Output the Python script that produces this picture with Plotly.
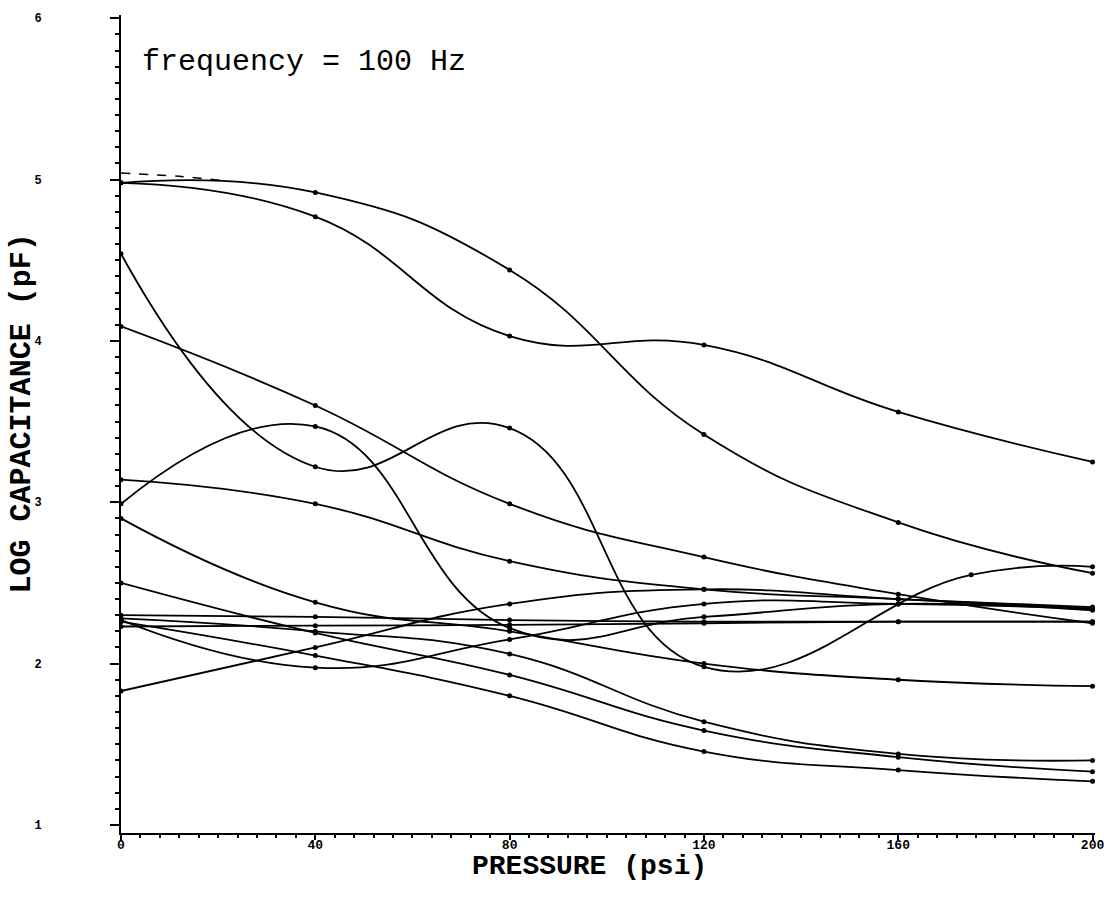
import plotly.graph_objects as go

# Pressure (psi) sample points
pressure = [0, 40, 80, 120, 160, 200]
pressure_b = [0, 40, 80, 120, 175, 200]

# Log capacitance (pF) series
curve_a1 = [4.98, 4.92, 4.44, 3.42, 2.875, 2.56]
curve_a2 = [4.98, 4.77, 4.03, 3.975, 3.56, 3.25]
curve_b = [4.54, 3.22, 3.46, 1.98, 2.55, 2.60]
curve_c = [2.99, 3.47, 2.22, 2.29, 2.37, 2.33]
curve_d = [4.09, 3.60, 2.99, 2.66, 2.43, 2.25]
curve_e = [3.14, 2.99, 2.635, 2.46, 2.40, 2.34]
curve_f = [2.90, 2.38, 2.20, 2.00, 1.90, 1.86]
curve_h = [2.30, 2.29, 2.27, 2.26, 2.26, 2.26]
curve_i = [2.23, 2.235, 2.24, 2.25, 2.26, 2.26]
curve_j = [1.83, 2.10, 2.37, 2.46, 2.40, 2.35]
curve_k = [2.27, 1.975, 2.15, 2.37, 2.37, 2.34]
curve_l1 = [2.28, 2.20, 2.06, 1.64, 1.44, 1.40]
curve_l2 = [2.50, 2.19, 1.93, 1.585, 1.42, 1.33]
curve_l3 = [2.26, 2.05, 1.80, 1.455, 1.34, 1.27]

dashed_x = [0, 12, 22]
dashed_y = [5.04, 5.02, 4.99]

x_ticks = [0, 40, 80, 120, 160, 200]
x_labels = ["0", "40", "80", "120", "160", "200"]
y_ticks = [1, 2, 3, 4, 5, 6]
y_labels = ["1", "2", "3", "4", "5", "6"]

series = [
    (pressure, curve_a1), (pressure, curve_a2), (pressure_b, curve_b),
    (pressure, curve_c), (pressure, curve_d), (pressure, curve_e),
    (pressure, curve_f), (pressure, curve_h), (pressure, curve_i),
    (pressure, curve_j), (pressure, curve_k), (pressure, curve_l1),
    (pressure, curve_l2), (pressure, curve_l3),
]

fig = go.Figure()
for xs, ys in series:
    fig.add_trace(go.Scatter(
        x=xs, y=ys, mode="lines+markers",
        line=dict(color="black", width=1.8, shape="spline", smoothing=1.3),
        marker=dict(color="black", size=5),
        showlegend=False, hoverinfo="skip",
    ))

fig.add_trace(go.Scatter(
    x=dashed_x, y=dashed_y, mode="lines",
    line=dict(color="black", width=1.5, dash="dash", shape="spline"),
    showlegend=False, hoverinfo="skip",
))

mono = "Liberation Mono"

fig.update_layout(
    width=1104, height=909,
    margin=dict(l=121, r=9, t=15, b=76, autoexpand=False),
    paper_bgcolor="white", plot_bgcolor="white",
    font=dict(family=mono, color="black"),
    xaxis=dict(
        range=[0, 200.5], showgrid=False, zeroline=False, automargin=False,
        showline=True, linecolor="black", linewidth=2,
        tickmode="array", tickvals=x_ticks, ticktext=x_labels,
        ticks="outside", ticklen=5, tickwidth=2, tickcolor="black",
        ticklabelstandoff=-7, ticklabeloverflow="allow",
        tickfont=dict(family=mono, size=13, color="black", weight="bold"),
        minor=dict(dtick=4, tick0=0, ticks="outside", ticklen=3,
                   tickwidth=1.5, tickcolor="black"),
    ),
    yaxis=dict(
        range=[0.95, 6.02], showgrid=False, zeroline=False, automargin=False,
        showline=True, linecolor="black", linewidth=2,
        tickmode="array", tickvals=y_ticks, ticktext=y_labels,
        ticks="outside", ticklen=9, tickwidth=2, tickcolor="black",
        ticklabelstandoff=66,
        tickfont=dict(family=mono, size=12, color="black", weight="bold"),
        minor=dict(dtick=0.1, tick0=1, ticks="outside", ticklen=4,
                   tickwidth=1.5, tickcolor="black"),
    ),
    annotations=[
        dict(text="frequency = 100 Hz", xref="paper", yref="paper",
             x=0.0195, y=0.9425, xanchor="left", yanchor="middle",
             showarrow=False, font=dict(family=mono, size=30, color="black")),
        dict(text="PRESSURE (psi)", xref="paper", yref="paper",
             x=0.4815, y=-0.0405, xanchor="center", yanchor="middle",
             showarrow=False,
             font=dict(family=mono, size=28, color="black", weight="bold")),
        dict(text="LOG CAPACITANCE (pF)", xref="paper", yref="paper",
             x=-0.1016, y=0.513, xanchor="center", yanchor="middle",
             textangle=-90, showarrow=False,
             font=dict(family=mono, size=30, color="black", weight="bold")),
    ],
)

fig.write_html("out.html")
